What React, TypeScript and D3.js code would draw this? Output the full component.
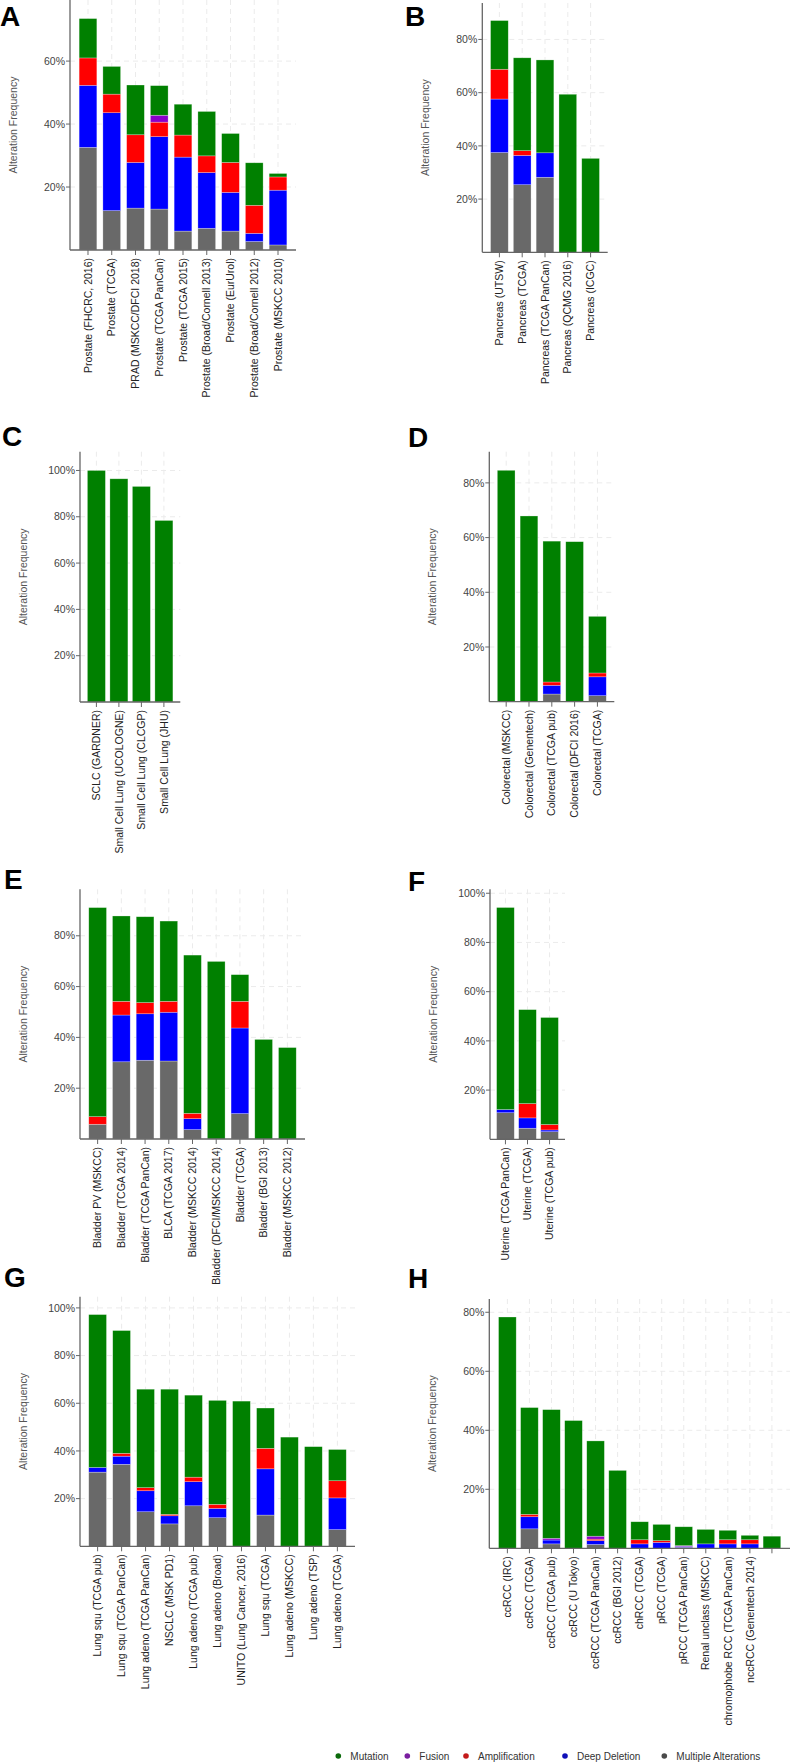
import React from 'react';
import * as d3 from 'd3';

// ---- legend / series ----
const seriesKeys = ['multi', 'del', 'amp', 'fusion', 'mut']; // bottom -> top
const seriesColors: Record<string, string> = {
  mut: '#008000',
  fusion: '#8b00c9',
  amp: '#ff0000',
  del: '#0000ff',
  multi: '#696969',
};
const legendLabels = ['Mutation', 'Fusion', 'Amplification', 'Deep Deletion', 'Multiple Alterations'];
const legendColors = ['#0b6a0b', '#7a1fa0', '#c41a1a', '#1010b8', '#4a4a4a'];
const tickValues = [20, 40, 60, 80, 100];

// ---- Panel A: Prostate ----
const aCategories = ['Prostate (FHCRC, 2016)', 'Prostate (TCGA)', 'PRAD (MSKCC/DFCI 2018)', 'Prostate (TCGA PanCan)', 'Prostate (TCGA 2015)', 'Prostate (Broad/Cornell 2013)', 'Prostate (EurUrol)', 'Prostate (Broad/Cornell 2012)', 'Prostate (MSKCC 2010)'];
const aMulti = [32.6, 12.5, 13.3, 13.0, 6.0, 6.9, 6.0, 2.7, 1.6];
const aDel = [19.7, 31.1, 14.5, 23.0, 23.5, 17.7, 12.3, 2.6, 17.4];
const aAmp = [8.7, 5.9, 8.8, 4.6, 7.0, 5.3, 9.5, 8.9, 4.2];
const aFusion = [0, 0, 0, 2.2, 0, 0, 0, 0, 0];
const aMut = [12.5, 8.8, 15.8, 9.4, 9.8, 14.1, 9.2, 13.5, 1.1];

// ---- Panel B: Pancreas ----
const bCategories = ['Pancreas (UTSW)', 'Pancreas (TCGA)', 'Pancreas (TCGA PanCan)', 'Pancreas (QCMG 2016)', 'Pancreas (ICGC)'];
const bMulti = [37.5, 25.4, 28.2, 0, 0];
const bDel = [20.1, 11.0, 9.2, 0, 0];
const bAmp = [11.2, 1.8, 0, 0, 0];
const bFusion = [0, 0, 0, 0, 0];
const bMut = [18.3, 34.9, 34.9, 59.4, 35.3];

// ---- Panel C: Small cell lung ----
const cCategories = ['SCLC (GARDNER)', 'Small Cell Lung (UCOLOGNE)', 'Small Cell Lung (CLCGP)', 'Small Cell Lung (JHU)'];
const cMulti = [0, 0, 0, 0];
const cDel = [0, 0, 0, 0];
const cAmp = [0, 0, 0, 0];
const cFusion = [0, 0, 0, 0];
const cMut = [100, 96.4, 93.1, 78.4];

// ---- Panel D: Colorectal ----
const dCategories = ['Colorectal (MSKCC)', 'Colorectal (Genentech)', 'Colorectal (TCGA pub)', 'Colorectal (DFCI 2016)', 'Colorectal (TCGA)'];
const dMulti = [0, 0, 2.8, 0, 2.2];
const dDel = [0, 0, 3.2, 0, 6.9];
const dAmp = [0, 0, 1.2, 0, 1.4];
const dFusion = [0, 0, 0, 0, 0];
const dMut = [84.6, 67.9, 51.5, 58.5, 20.7];

// ---- Panel E: Bladder ----
const eCategories = ['Bladder PV (MSKCC)', 'Bladder (TCGA 2014)', 'Bladder (TCGA PanCan)', 'BLCA (TCGA 2017)', 'Bladder (MSKCC 2014)', 'Bladder (DFCI/MSKCC 2014)', 'Bladder (TCGA)', 'Bladder (BGI 2013)', 'Bladder (MSKCC 2012)'];
const eMulti = [5.8, 30.4, 31.0, 30.7, 3.7, 0, 10.0, 0, 0];
const eDel = [0, 18.4, 18.3, 19.2, 4.3, 0, 33.7, 0, 0];
const eAmp = [3.0, 5.4, 4.4, 4.3, 2.1, 0, 10.5, 0, 0];
const eFusion = [0, 0, 0, 0, 0, 0, 0, 0, 0];
const eMut = [82.3, 33.6, 33.8, 31.6, 62.3, 69.9, 10.5, 39.2, 36.0];

// ---- Panel F: Uterine ----
const fCategories = ['Uterine (TCGA PanCan)', 'Uterine (TCGA)', 'Uterine (TCGA pub)'];
const fMulti = [10.8, 4.5, 3.1];
const fDel = [1.3, 4.2, 0.7];
const fAmp = [0, 5.8, 2.2];
const fFusion = [0, 0, 0];
const fMut = [82.1, 38.2, 43.5];

// ---- Panel G: Lung ----
const gCategories = ['Lung squ (TCGA pub)', 'Lung squ (TCGA PanCan)', 'Lung adeno (TCGA PanCan)', 'NSCLC (MSK PD1)', 'Lung adeno (TCGA pub)', 'Lung adeno (Broad)', 'UNITO (Lung Cancer, 2016)', 'Lung squ (TCGA)', 'Lung adeno (MSKCC)', 'Lung adeno (TSP)', 'Lung adeno (TCGA)'];
const gMulti = [31.1, 34.4, 14.5, 9.4, 17.0, 12.0, 0, 13.1, 0, 0, 7.0];
const gDel = [2.0, 3.4, 8.8, 3.4, 10.1, 3.9, 0, 19.4, 0, 0, 13.3];
const gAmp = [0, 1.2, 1.3, 0.6, 1.9, 1.7, 0, 8.6, 0, 0, 7.2];
const gFusion = [0, 0, 0, 0, 0, 0, 0, 0, 0, 0, 0];
const gMut = [64.1, 51.5, 41.3, 52.5, 34.4, 43.6, 60.9, 16.9, 45.8, 41.8, 13.1];

// ---- Panel H: Renal ----
const hCategories = ['ccRCC (IRC)', 'ccRCC (TCGA)', 'ccRCC (TCGA pub)', 'ccRCC (U Tokyo)', 'ccRCC (TCGA PanCan)', 'ccRCC (BGI 2012)', 'chRCC (TCGA)', 'pRCC (TCGA)', 'pRCC (TCGA PanCan)', 'Renal unclass (MSKCC)', 'chromophobe RCC (TCGA PanCan)', 'nccRCC (Genentech 2014)', ''];
const hMulti = [0, 6.6, 1.5, 0, 1.3, 0, 0, 0, 0.3, 0, 0, 0, 0];
const hDel = [0, 4.1, 1.3, 0, 1.3, 0, 1.5, 2.0, 0.3, 1.5, 1.5, 1.5, 0];
const hAmp = [0, 0.8, 0, 0, 0.5, 0, 1.4, 0.6, 0, 0, 1.4, 1.4, 0];
const hFusion = [0, 0, 0.6, 0, 1.0, 0, 0, 0, 0.3, 0, 0, 0, 0];
const hMut = [78.4, 36.2, 43.6, 43.3, 32.3, 26.4, 6.1, 5.5, 6.4, 4.9, 3.2, 1.5, 4.1];

type Layout = { x0: number; x1: number; yTop: number; yBase: number; dmax: number; pi: number; po: number; lx: number; ly: number };

const panels = [
  { letter: 'A', cats: aCategories, s: { multi: aMulti, del: aDel, amp: aAmp, fusion: aFusion, mut: aMut }, L: { x0: 70, x1: 296, yTop: 0, yBase: 250, dmax: 79.4, pi: 0.255, po: 0.385, lx: 0, ly: 26 } },
  { letter: 'B', cats: bCategories, s: { multi: bMulti, del: bDel, amp: bAmp, fusion: bFusion, mut: bMut }, L: { x0: 482.3, x1: 607.7, yTop: 3, yBase: 252.3, dmax: 93.7, pi: 0.224, po: 0.362, lx: 405, ly: 26 } },
  { letter: 'C', cats: cCategories, s: { multi: cMulti, del: cDel, amp: cAmp, fusion: cFusion, mut: cMut }, L: { x0: 80, x1: 180.3, yTop: 451.7, yBase: 702, dmax: 108.1, pi: 0.2, po: 0.329, lx: 2, ly: 446 } },
  { letter: 'D', cats: dCategories, s: { multi: dMulti, del: dDel, amp: dAmp, fusion: dFusion, mut: dMut }, L: { x0: 489.3, x1: 614.3, yTop: 451.7, yBase: 701.7, dmax: 91.4, pi: 0.224, po: 0.352, lx: 408, ly: 447 } },
  { letter: 'E', cats: eCategories, s: { multi: eMulti, del: eDel, amp: eAmp, fusion: eFusion, mut: eMut }, L: { x0: 80, x1: 305, yTop: 889.3, yBase: 1139, dmax: 98.3, pi: 0.253, po: 0.37, lx: 4, ly: 889 } },
  { letter: 'F', cats: fCategories, s: { multi: fMulti, del: fDel, amp: fAmp, fusion: fFusion, mut: fMut }, L: { x0: 490, x1: 565, yTop: 889.3, yBase: 1139.3, dmax: 101.6, pi: 0.2, po: 0.3, lx: 408, ly: 891 } },
  { letter: 'G', cats: gCategories, s: { multi: gMulti, del: gDel, amp: gAmp, fusion: gFusion, mut: gMut }, L: { x0: 80, x1: 355, yTop: 1296.7, yBase: 1546.3, dmax: 104.7, pi: 0.26, po: 0.365, lx: 4, ly: 1287 } },
  { letter: 'H', cats: hCategories, s: { multi: hMulti, del: hDel, amp: hAmp, fusion: hFusion, mut: hMut }, L: { x0: 489.3, x1: 790, yTop: 1299, yBase: 1548.3, dmax: 84.5, pi: 0.2, po: 0.42, lx: 408, ly: 1288 } },
];

const FONT = '"Liberation Sans", Arial, sans-serif';

function Panel({ p }: { p: any }) {
  const L: Layout = p.L;
  const x = d3.scaleBand<string>().domain(p.cats.map((c: string, i: number) => i + '')).range([L.x0, L.x1]).paddingInner(L.pi).paddingOuter(L.po);
  const y = d3.scaleLinear().domain([0, L.dmax]).range([L.yBase, L.yTop]);
  const rows = p.cats.map((c: string, i: number) => {
    const r: any = { key: i + '' };
    seriesKeys.forEach((k) => (r[k] = p.s[k][i]));
    return r;
  });
  const stacked = d3.stack<any>().keys(seriesKeys)(rows);
  const ticks = tickValues.filter((t) => t <= L.dmax);
  const bw = x.bandwidth();
  return (
    <g>
      <text x={L.lx} y={L.ly} fontFamily={FONT} fontWeight="bold" fontSize={28} fill="#000">{p.letter}</text>
      {/* grid */}
      {ticks.map((t) => (
        <line key={'h' + t} x1={L.x0} x2={L.x1} y1={y(t)} y2={y(t)} stroke="#ebebeb" strokeDasharray="5,4" />
      ))}
      {p.cats.map((c: string, i: number) => (
        <line key={'v' + i} x1={x(i + '')! + bw / 2} x2={x(i + '')! + bw / 2} y1={L.yTop} y2={L.yBase} stroke="#ebebeb" strokeDasharray="5,4" />
      ))}
      {/* bars */}
      {stacked.map((layer: any) =>
        layer.map((d: any, i: number) => {
          const h = y(d[0]) - y(d[1]);
          if (h <= 0.01) return null;
          return (
            <rect key={layer.key + i} x={x(i + '')} y={y(d[1])} width={bw} height={h} fill={seriesColors[layer.key]} stroke="#ffffff" strokeOpacity={0.45} strokeWidth={0.6} />
          );
        })
      )}
      {/* axes */}
      <line x1={L.x0} x2={L.x0} y1={L.yTop} y2={L.yBase} stroke="#666" strokeWidth={1.3} />
      <line x1={L.x0} x2={L.x1} y1={L.yBase} y2={L.yBase} stroke="#666" strokeWidth={1.3} />
      {ticks.map((t) => (
        <g key={'t' + t}>
          <line x1={L.x0 - 4} x2={L.x0} y1={y(t)} y2={y(t)} stroke="#666" />
          <text x={L.x0 - 5} y={y(t)} dy="0.35em" textAnchor="end" fontFamily={FONT} fontSize={10.5} fill="#444">{t + '%'}</text>
        </g>
      ))}
      {p.cats.map((c: string, i: number) => {
        const cx = x(i + '')! + bw / 2;
        return (
          <g key={'xl' + i}>
            <line x1={cx} x2={cx} y1={L.yBase} y2={L.yBase + 5} stroke="#666" />
            <text transform={`translate(${cx},${L.yBase + 8}) rotate(-90)`} dy="0.35em" textAnchor="end" fontFamily={FONT} fontSize={10.5} fill="#222">{c}</text>
          </g>
        );
      })}
      <text transform={`translate(${L.x0 - 57},${(L.yTop + L.yBase) / 2}) rotate(-90)`} dy="0.35em" textAnchor="middle" fontFamily={FONT} fontSize={10.5} fill="#555">Alteration Frequency</text>
    </g>
  );
}

const legendX = [338.3, 407.3, 466, 565, 664.3];

export default function App() {
  return (
    <svg width={790} height={1762} style={{ position: 'absolute', left: 0, top: 0, background: '#fff' }}>
      <rect x={0} y={0} width={790} height={1762} fill="#fff" />
      {panels.map((p) => (
        <Panel key={p.letter} p={p} />
      ))}
      {legendLabels.map((l, i) => (
        <g key={l}>
          <circle cx={legendX[i]} cy={1756} r={2.8} fill={legendColors[i]} />
          <text x={legendX[i] + 12} y={1756} dy="0.35em" fontFamily={FONT} fontSize={10} fill="#333">{l}</text>
        </g>
      ))}
    </svg>
  );
}
